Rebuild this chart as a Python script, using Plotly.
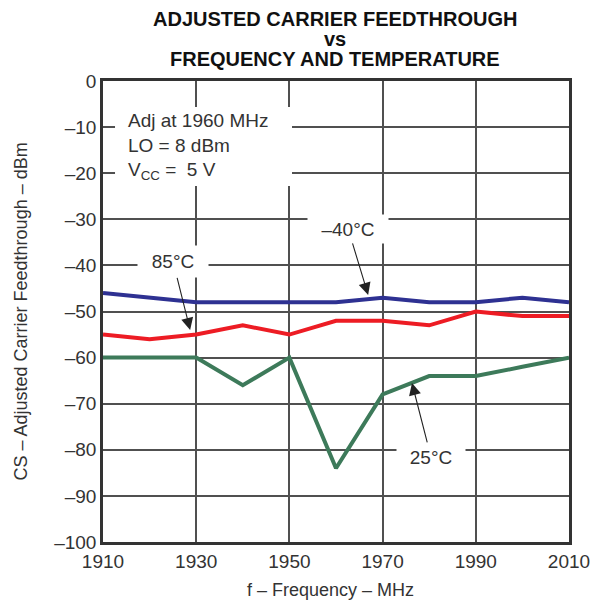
import plotly.graph_objects as go

freq_mhz = [1910, 1920, 1930, 1940, 1950, 1960, 1970, 1980, 1990, 2000, 2010]
cs_minus40 = [-46, -47, -48, -48, -48, -48, -47, -48, -48, -47, -48]
cs_85 = [-55, -56, -55, -53, -55, -52, -52, -53, -50, -51, -51]
cs_25 = [-60, -60, -60, -66, -60, -84, -68, -64, -64, -62, -60]

y_ticks = list(range(0, -101, -10))
y_tick_text = ["0"] + [f"–{abs(v)}" for v in y_ticks[1:]]
x_ticks = [1910, 1930, 1950, 1970, 1990, 2010]

title_lines = ["ADJUSTED CARRIER FEEDTHROUGH", "vs", "FREQUENCY AND TEMPERATURE"]

font = "Liberation Sans, Arial, sans-serif"
txt = "#333333"
grid = "#505050"

fig = go.Figure()
fig.add_trace(go.Scatter(x=freq_mhz, y=cs_minus40, mode="lines",
                         line=dict(color="#2e3192", width=4)))
fig.add_trace(go.Scatter(x=freq_mhz, y=cs_85, mode="lines",
                         line=dict(color="#ed1c24", width=4)))
fig.add_trace(go.Scatter(x=freq_mhz, y=cs_25, mode="lines",
                         line=dict(color="#3d7a5a", width=4)))

# label, arrow tip (data), tail offset (px), box width, box height
labels = [
    ("–40°C", 1966.9, -46.4, -20, -66, 80, 28),
    ("85°C", 1928.7, -54.0, -17, -68, 70, 31),
    ("25°C", 1976.3, -65.5, 19, 74, 68, 28),
]
for text, x, y, ax, ay, w, h in labels:
    fig.add_annotation(x=x, y=y, ax=ax, ay=ay, text=text, showarrow=True,
                       arrowhead=2, arrowsize=2.2, arrowwidth=1.1, arrowcolor="#222222",
                       bgcolor="white", borderpad=0, width=w, height=h,
                       font=dict(family=font, size=19, color=txt))

# white box behind the conditions text
fig.add_shape(type="rect", xref="paper", yref="paper",
              x0=0.0258, x1=0.4056, y0=0.7722, y1=0.9436,
              fillcolor="white", line=dict(width=0), layer="above")
fig.add_annotation(xref="paper", yref="paper", x=0.0494, y=0.859,
                   xanchor="left", yanchor="middle", align="left", showarrow=False,
                   text="Adj at 1960 MHz<br>LO = 8 dBm<br>V<sub>CC</sub> =  5 V",
                   font=dict(family=font, size=19, color=txt))

for line, ypx in zip(title_lines, [19, 39, 59]):
    fig.add_annotation(xref="paper", yref="paper", x=0.498, y=1 + (81 - ypx) / 461,
                       xanchor="center", yanchor="middle", showarrow=False,
                       text=f"<b>{line}</b>",
                       font=dict(family=font, size=20, color="#111111"))

fig.add_annotation(xref="paper", yref="paper", x=(330 - 103) / 466, y=1 - (590 - 81) / 461,
                   xanchor="center", yanchor="middle", showarrow=False,
                   text="f – Frequency – MHz",
                   font=dict(family=font, size=18, color=txt))
fig.add_annotation(xref="paper", yref="paper", x=(20 - 103) / 466, y=0.5,
                   xanchor="center", yanchor="middle", showarrow=False, textangle=-90,
                   text="CS – Adjusted Carrier Feedthrough – dBm",
                   font=dict(family=font, size=18, color=txt))

# page body adds an 8 px offset, so the figure is 8 px smaller
fig.update_layout(
    width=599, height=593,
    margin=dict(l=95, r=38, t=73, b=59, autoexpand=False),
    plot_bgcolor="white", paper_bgcolor="white",
    showlegend=False,
    font=dict(family=font, size=19, color=txt),
)
fig.update_xaxes(range=[1910, 2010], tickvals=x_ticks, showgrid=True, automargin=False,
                 gridcolor=grid, gridwidth=1.5, showline=True, mirror=True,
                 linecolor="#333333", linewidth=2.5, ticks="", zeroline=False,
                 tickfont=dict(size=19, color=txt))
fig.update_yaxes(range=[-100, 0], tickvals=y_ticks, ticktext=y_tick_text, showgrid=True,
                 automargin=False,
                 gridcolor=grid, gridwidth=1.5, showline=True, mirror=True,
                 linecolor="#333333", linewidth=2.5, ticks="", zeroline=False,
                 tickfont=dict(size=19, color=txt))

fig.write_html("out.html")
